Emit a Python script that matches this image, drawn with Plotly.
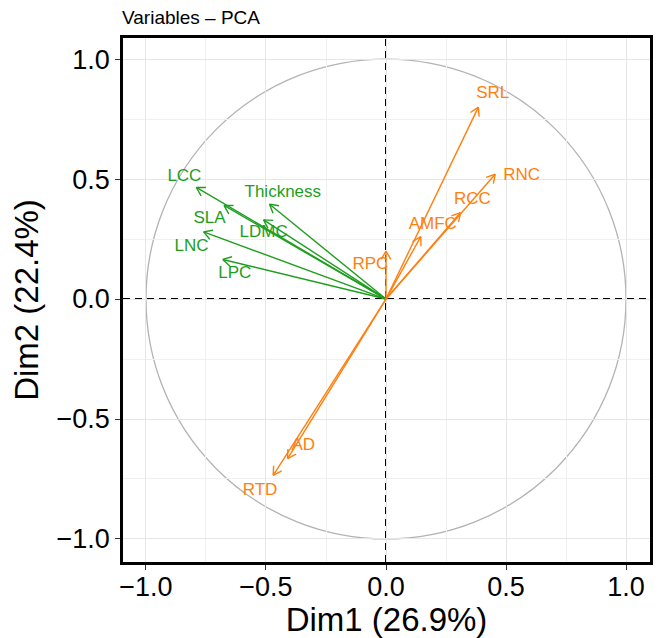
import numpy as np
import plotly.graph_objects as go

# ---- data ----
leaf_vars = ["LCC", "Thickness", "SLA", "LDMC", "LNC", "LPC"]
leaf_x = [-0.79, -0.485, -0.675, -0.51, -0.76, -0.68]
leaf_y = [0.465, 0.395, 0.39, 0.33, 0.28, 0.165]
leaf_lab_x = [-0.84, -0.43, -0.735, -0.51, -0.81, -0.63]
leaf_lab_y = [0.51, 0.445, 0.335, 0.275, 0.22, 0.105]

root_vars = ["SRL", "RNC", "RCC", "AMFC", "RPC", "AD", "RTD"]
root_x = [0.385, 0.455, 0.31, 0.145, 0.0, -0.41, -0.47]
root_y = [0.80, 0.52, 0.36, 0.26, 0.20, -0.665, -0.735]
root_lab_x = [0.445, 0.565, 0.36, 0.195, -0.065, -0.345, -0.525]
root_lab_y = [0.855, 0.515, 0.415, 0.31, 0.145, -0.61, -0.80]

title_text = "Variables – PCA"
x_title = "Dim1 (26.9%)"
y_title = "Dim2 (22.4%)"
tick_vals = [-1.0, -0.5, 0.0, 0.5, 1.0]
tick_text = ["\u22121.0", "\u22120.5", "0.0", "0.5", "1.0"]

GREEN = "#1E9E1E"
ORANGE = "#FF7F0E"
FONT = "Liberation Sans, Arial"


def arrow_paths(xs, ys, head=0.04, ang=np.deg2rad(30)):
    px, py = [], []
    for x, y in zip(xs, ys):
        px += [0, x, None]
        py += [0, y, None]
        th = np.arctan2(y, x)
        for s in (1, -1):
            px += [x, x - head * np.cos(th + s * ang), None]
            py += [y, y - head * np.sin(th + s * ang), None]
    return px, py


fig = go.Figure()

# unit circle
fig.add_shape(type="circle", xref="x", yref="y", x0=-1, y0=-1, x1=1, y1=1,
              line=dict(color="#B3B3B3", width=1.3), layer="below")
# dashed axes
fig.add_shape(type="line", xref="x", yref="paper", x0=0, x1=0, y0=0, y1=1,
              line=dict(color="black", width=2, dash="7px,5px"), layer="below")
fig.add_shape(type="line", xref="paper", yref="y", x0=0, x1=1, y0=0, y1=0,
              line=dict(color="black", width=2, dash="7px,5px"), layer="below")

gx, gy = arrow_paths(leaf_x, leaf_y)
fig.add_trace(go.Scatter(x=gx, y=gy, mode="lines", line=dict(color=GREEN, width=1.4),
                         hoverinfo="skip", showlegend=False))
ox, oy = arrow_paths(root_x, root_y)
fig.add_trace(go.Scatter(x=ox, y=oy, mode="lines", line=dict(color=ORANGE, width=1.4),
                         hoverinfo="skip", showlegend=False))

fig.add_trace(go.Scatter(x=leaf_lab_x, y=leaf_lab_y, mode="text", text=leaf_vars,
                         textfont=dict(color=GREEN, size=17, family=FONT),
                         textposition="middle center", showlegend=False, hoverinfo="skip"))
fig.add_trace(go.Scatter(x=root_lab_x, y=root_lab_y, mode="text", text=root_vars,
                         textfont=dict(color=ORANGE, size=17, family=FONT),
                         textposition="middle center", showlegend=False, hoverinfo="skip"))

axis_common = dict(
    showgrid=True, gridcolor="#E6E6E6", gridwidth=1.2,
    minor=dict(dtick=0.25, tick0=0, showgrid=True, gridcolor="#F0F0F0", gridwidth=0.8),
    zeroline=False, showline=True, mirror=True, linecolor="black", linewidth=2.5,
    ticks="outside", ticklen=5, tickwidth=1.2, tickcolor="#333333",
    tickvals=tick_vals, ticktext=tick_text, automargin=False,
    tickfont=dict(size=27, color="black", family=FONT),
)

fig.update_layout(
    width=659, height=638,
    margin=dict(l=123, r=9, t=38, b=76),
    plot_bgcolor="white", paper_bgcolor="white",
    title=dict(text=title_text, x=122 / 659, xanchor="left", y=1 - 17 / 638, yanchor="middle",
               font=dict(size=19, color="black", family=FONT)),
    xaxis=dict(range=[-1.0958, 1.1], ticklabelstandoff=-6, title=dict(text=x_title, standoff=0,
               font=dict(size=33, color="black", family=FONT)), **axis_common),
    yaxis=dict(range=[-1.096, 1.088], title=dict(text=y_title, standoff=8,
               font=dict(size=33, color="black", family=FONT)), **axis_common),
)

fig.write_html("out.html", config={"displayModeBar": False},
               post_script="document.body.style.margin='0';")
